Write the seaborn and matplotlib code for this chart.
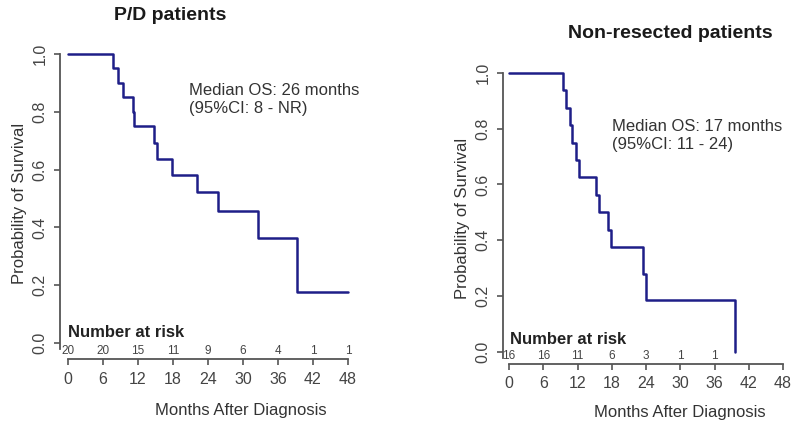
import numpy as np
import pandas as pd
import matplotlib
matplotlib.use("Agg")
import matplotlib.pyplot as plt
import seaborn as sns

# ---- data ----
pd_times = [0, 7.8, 8.6, 9.5, 11.1, 11.4, 14.8, 15.3, 17.9, 22.1, 25.8, 32.6, 39.2, 48.0]
pd_surv = [1.0, 0.95, 0.90, 0.85, 0.80, 0.75, 0.692, 0.635, 0.582, 0.524, 0.458, 0.364, 0.178, 0.178]

nr_times = [0, 9.4, 10.0, 10.6, 11.1, 11.7, 12.3, 15.2, 15.7, 17.4, 17.8, 23.4, 24.0, 39.6, 39.6]
nr_surv = [1.0, 0.9375, 0.875, 0.8125, 0.75, 0.6875, 0.625, 0.5625, 0.5, 0.4375, 0.375, 0.281, 0.1875, 0.1875, 0.0]

x_ticks = [0, 6, 12, 18, 24, 30, 36, 42, 48]
y_ticks = [0.0, 0.2, 0.4, 0.6, 0.8, 1.0]
y_ticklabels = ["0.0", "0.2", "0.4", "0.6", "0.8", "1.0"]

pd_risk_months = [0, 6, 12, 18, 24, 30, 36, 42, 48]
pd_risk = [20, 20, 15, 11, 9, 6, 4, 1, 1]
nr_risk_months = [0, 6, 12, 18, 24, 30, 36]
nr_risk = [16, 16, 11, 6, 3, 1, 1]

titles = ["P/D patients", "Non-resected patients"]
medians = ["Median OS: 26 months\n(95%CI: 8 - NR)", "Median OS: 17 months\n(95%CI: 11 - 24)"]

sns.set_style("white")
plt.rcParams['font.family'] = ['Liberation Sans', 'DejaVu Sans']

W, H = 800, 429
fig = plt.figure(figsize=(8, 4.29), dpi=100)

def fx(x):
    return x / W

def fy(y):
    return 1 - y / H

line_color = "#1e1e88"
axis_color = "#555555"
text_color = "#333333"

def panel(rect, xlim, ylim, times, surv, risk_m, risk_n, risk_y, nar_y, nar_x):
    ax = fig.add_axes(rect)
    df = pd.DataFrame({"t": times, "s": surv})
    sns.lineplot(data=df, x="t", y="s", ax=ax, estimator=None, sort=False,
                 drawstyle="steps-post", color=line_color, linewidth=1.8)
    ax.set_xlim(*xlim)
    ax.set_ylim(*ylim)
    ax.set_xlabel("")
    ax.set_ylabel("")
    for s in ["top", "right"]:
        ax.spines[s].set_visible(False)
    ax.spines["left"].set_bounds(-0.02, 1)
    ax.spines["bottom"].set_bounds(0, 48)
    for s in ["left", "bottom"]:
        ax.spines[s].set_color(axis_color)
        ax.spines[s].set_linewidth(1.3)
    ax.set_xticks(x_ticks)
    ax.set_xticklabels([str(v) for v in x_ticks])
    ax.set_yticks(y_ticks)
    ax.set_yticklabels(y_ticklabels, rotation=90, va="center")
    ax.tick_params(axis="both", direction="out", length=4, width=1.2, color=axis_color,
                   labelsize=11.5, labelcolor="#444444")
    ax.tick_params(axis="x", pad=5, bottom=True)
    ax.tick_params(axis="y", pad=5, left=True)
    for m, n in zip(risk_m, risk_n):
        ax.text(m, risk_y, str(n), ha="center", va="center", fontsize=8.5, color="#444444")
    ax.text(nar_x, nar_y, "Number at risk", ha="left", va="center", fontsize=12,
            fontweight="bold", color="#222222")
    return ax

# left panel
panel([fx(60), fy(359), 296.7 / W, (359 - 45.3) / H], (-1.37, 49.5), (-0.0554, 1.03),
      pd_times, pd_surv, pd_risk_months, pd_risk, -0.027, 0.036, 0.0)
# right panel
panel([fx(503), fy(364), 288.6 / W, (364 - 64.3) / H], (-1.05, 49.5), (-0.043, 1.03),
      nr_times, nr_surv, nr_risk_months, nr_risk, -0.014, 0.043, 0.1)

# titles
fig.text(fx(170), fy(16), titles[0], ha="center", va="center", fontsize=14,
         fontweight="bold", color="#1a1a1a")
fig.text(fx(670), fy(33), titles[1], ha="center", va="center", fontsize=14,
         fontweight="bold", color="#1a1a1a")

# median annotations
fig.text(fx(189), fy(99), medians[0], ha="left", va="center", fontsize=12,
         color=text_color, linespacing=1.25)
fig.text(fx(612), fy(136), medians[1], ha="left", va="center", fontsize=12,
         color=text_color, linespacing=1.25)

# axis labels
fig.text(fx(241), fy(410), "Months After Diagnosis", ha="center", va="center",
         fontsize=12, color=text_color)
fig.text(fx(680), fy(412), "Months After Diagnosis", ha="center", va="center",
         fontsize=12, color=text_color)
fig.text(fx(20), fy(203), "Probability of Survival", ha="center", va="center",
         rotation=90, fontsize=12, color=text_color)
fig.text(fx(463), fy(218), "Probability of Survival", ha="center", va="center",
         rotation=90, fontsize=12, color=text_color)

fig.savefig("out.png", dpi=100, facecolor="white")
